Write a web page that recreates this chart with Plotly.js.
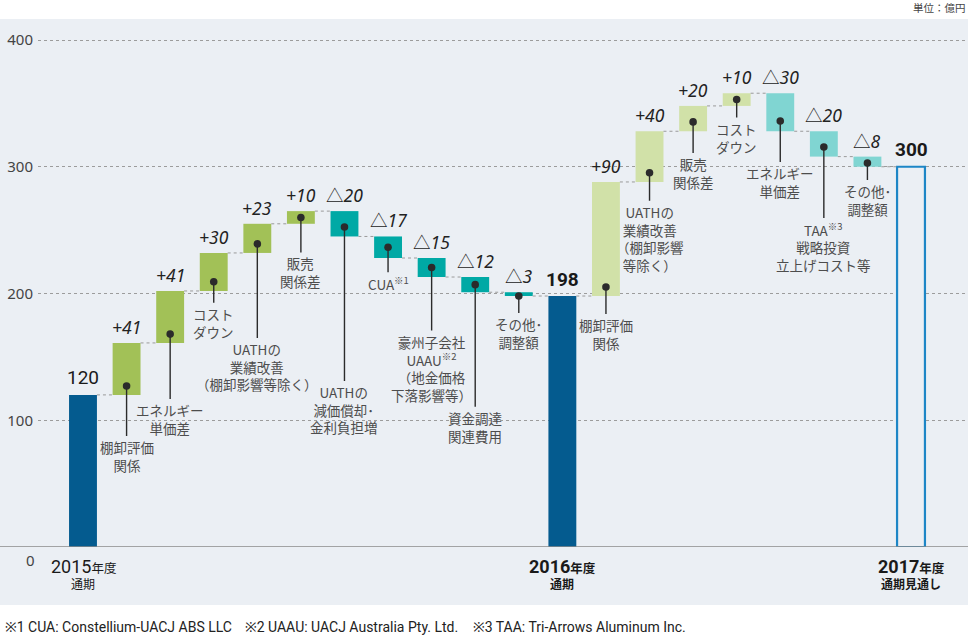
<!DOCTYPE html>
<html><head><meta charset="utf-8">
<script src="https://cdn.plot.ly/plotly-3.0.1.min.js"></script>
<style>html,body{margin:0;padding:0;background:#fff}</style>
</head><body><div id="chart" style="width:970px;height:635px"></div>
<script>
// ---------- data ----------
const categories = ['2015年度通期','棚卸評価関係','エネルギー単価差','コストダウン','UATHの業績改善','販売関係差','UATHの減価償却・金利負担増','CUA','豪州子会社UAAU','資金調達関連費用','その他・調整額','2016年度通期','棚卸評価関係','UATHの業績改善','販売関係差','コストダウン','エネルギー単価差','TAA戦略投資立上げコスト等','その他・調整額','2017年度通期見通し'];
const measures = ['total','delta','delta','delta','delta','delta','delta','delta','delta','delta','delta','total','delta','delta','delta','delta','delta','delta','delta','total'];
const values = [120, 41, 41, 30, 23, 10, -20, -17, -15, -12, -3, 198, 90, 40, 20, 10, -30, -20, -8, 300];
const calloutTexts = ['', '棚卸評価<br>関係', 'エネルギー<br>単価差', 'コスト<br>ダウン', 'UATHの<br>業績改善<br>（棚卸影響等除く）', '販売<br>関係差', 'UATHの<br>減価償却･<br>金利負担増', 'CUA<sup>※1</sup>', '豪州子会社<br>UAAU<sup>※2</sup><br>（地金価格<br>下落影響等）', '資金調達<br>関連費用', 'その他･<br>調整額', '', '棚卸評価<br>関係', 'UATHの<br>業績改善<br>（棚卸影響<br>等除く）', '販売<br>関係差', 'コスト<br>ダウン', 'エネルギー<br>単価差', 'TAA<sup>※3</sup><br>戦略投資<br>立上げコスト等', 'その他･<br>調整額', ''];
const yearTop = ['2015', '2016', '2017'];
const yearSub = ['通期', '通期', '通期見通し'];
const yearIdx = [0, 11, 19];
const yTicks = [100, 200, 300, 400];
const footnotes = ['※1 CUA: Constellium-UACJ ABS LLC', '※2 UAAU: UACJ Australia Pty. Ltd.', '※3 TAA: Tri-Arrows Aluminum Inc.'];

// ---------- style / positions ----------
const C = {
  total:'#045B8F', up1:'#A2C157', down1:'#00A9A5', up2:'#D1E1A8', down2:'#80D5D2',
  outline:'#1D86C6', panel:'#EBEFF4', grid:'#9c9c9c', txt:'#4d4d4d', val:'#222'
};
const calloutFrac = [0,0.17,0.17,0.24,0.31,0.5,0.375,0.5,0.5,0.5,0,0,0.08,0.18,0.37,0.5,0.27,0.38,0.375,0];
const calloutAy   = [0,50,65,21,94,35,154,25,63,122,17,0,27,28,31,18,41,71,17,0];
const footX = [3, 243, 471];
const W = 0.64;
const PL = 38, PR = 968, PT = 19, PB = 547;   // plot area px
const pxPerUnit = 1.2675;
const yMax = (PB - PT) / pxPerUnit;
const unitPx = 43.58;
const xr0 = -(83 - PL) / unitPx, xr1 = 19 + (PR - 911) / unitPx;
const py = p => (PB - p) / (PB - PT);       // px -> paper y
const pxX = p => (p - PL) / (PR - PL);      // px -> paper x
const NUMFONT = 'Roboto, Noto Sans, sans-serif';

// ---------- derived ----------
const xs = values.map((_, i) => i);
const bases = [], heights = [], colors = [], lineCols = [], lineW = [], ends = [], tops = [];
let run = 0, phase = 1;
values.forEach((v, i) => {
  if (measures[i] === 'total') {
    bases.push(0); heights.push(v); run = v;
    if (i === values.length - 1) { colors.push(C.panel); lineCols.push(C.outline); lineW.push(2.2); }
    else { colors.push(C.total); lineCols.push(C.total); lineW.push(0); }
    if (i > 0) phase = 2;
    tops.push(v);
  } else {
    const b = v >= 0 ? run : run + v;
    bases.push(b); heights.push(Math.abs(v));
    const col = v >= 0 ? (phase === 1 ? C.up1 : C.up2) : (phase === 1 ? C.down1 : C.down2);
    colors.push(col); lineCols.push(col); lineW.push(0);
    tops.push(b + Math.abs(v));
    run += v;
  }
  ends.push(run);
});

// connectors
const cx = [], cy = [];
for (let i = 0; i < values.length - 1; i++) {
  cx.push(i + W / 2, i + 1 - W / 2, null);
  cy.push(ends[i], ends[i], null);
}

const traces = [
  { type:'bar', x: xs, y: heights, base: bases, width: W,
    marker:{ color: colors, line:{ color: lineCols, width: lineW } },
    hoverinfo:'skip', showlegend:false },
  { type:'scatter', mode:'lines', x: cx, y: cy, connectgaps:false,
    line:{ color:'#9a9a9a', width:1, dash:'dot' }, hoverinfo:'skip', showlegend:false }
];

const annotations = [];
// value labels
values.forEach((v, i) => {
  let text, font;
  if (measures[i] === 'total') {
    text = (i === 0) ? String(v) : '<b>' + v + '</b>';
    font = { family:NUMFONT, size:19, color:'#1a1a1a' };
  } else {
    text = v >= 0 ? '<i>+' + v + '</i>' : '△<i>' + Math.abs(v) + '</i>';
    font = { family:'Noto Sans, Noto Sans CJK JP, sans-serif', size:17.5, color:C.val };
  }
  annotations.push({ x:i, y:tops[i], xref:'x', yref:'y', text, font, showarrow:false,
    xanchor:'center', yanchor:'middle', yshift: measures[i]==='total' ? 17 : 16 });
});
// callouts
values.forEach((v, i) => {
  if (measures[i] === 'total') return;
  const yDot = bases[i] + heights[i] * calloutFrac[i];
  annotations.push({ x:i, y:yDot, xref:'x', yref:'y', text: calloutTexts[i],
    showarrow:true, arrowhead:6, arrowsize:1.35, arrowwidth:1.4, arrowcolor:'#2b2b2b',
    ax:0, ay: calloutAy[i], standoff:0, xanchor:'center', yanchor:'top', borderpad:0,
    font:{ family:'Noto Sans CJK JP, sans-serif', size:13.5, color:C.txt } });
});
// year labels
yearIdx.forEach((ix, k) => {
  const bold = k > 0;
  const t = bold ? '<b>' + yearTop[k] + '</b><b><span style="font-family:Noto Sans CJK JP;font-size:12.5px">年度</span></b>'
                 : yearTop[k] + '<span style="font-family:Noto Sans CJK JP;font-size:12.5px">年度</span>';
  annotations.push({ x: ix, xref:'x', yref:'paper', y: py(566), text: t, showarrow:false,
    xanchor:'center', yanchor:'middle',
    font:{ family:NUMFONT, size:18, color:'#1a1a1a' } });
  annotations.push({ x: ix, xref:'x', yref:'paper', y: py(583), text: bold ? '<b>' + yearSub[k] + '</b>' : yearSub[k],
    showarrow:false, xanchor:'center', yanchor:'middle',
    font:{ family:'Noto Sans CJK JP, sans-serif', size:12, color:'#1a1a1a' } });
});
// zero label
annotations.push({ xref:'paper', yref:'paper', x: pxX(30), y: py(560), text:'0', showarrow:false,
  xanchor:'center', yanchor:'middle', font:{ family:'Noto Sans, sans-serif', size:15, color:'#444' } });
// unit
annotations.push({ xref:'paper', yref:'paper', x: pxX(968), y: py(7), text:'単位：億円', showarrow:false,
  xanchor:'right', yanchor:'middle', font:{ family:'Noto Sans CJK JP, sans-serif', size:10.5, color:'#444' } });
// footnotes
footnotes.forEach((f, k) => {
  annotations.push({ xref:'paper', yref:'paper', x: pxX(footX[k]), y: py(627), text: f, showarrow:false,
    xanchor:'left', yanchor:'middle', font:{ family:NUMFONT, size:14, color:'#222' } });
});

const layout = {
  width:970, height:635,
  margin:{ l:PL, r:970-PR, t:PT, b:635-PB, pad:0 },
  paper_bgcolor:'#ffffff', plot_bgcolor:'rgba(0,0,0,0)',
  showlegend:false,
  xaxis:{ range:[xr0, xr1], showgrid:false, zeroline:false, showticklabels:false, ticks:'', fixedrange:true },
  yaxis:{ range:[0, yMax], tickvals: yTicks, ticktext: yTicks.map(String), showgrid:true, gridcolor:C.grid,
    griddash:'dot', gridwidth:1, zeroline:false, showline:false, ticks:'', ticklabelstandoff:4,
    tickfont:{ family:'Noto Sans, sans-serif', size:15, color:'#444' } },
  shapes:[
    { type:'rect', xref:'paper', yref:'paper', x0: pxX(0), x1: pxX(968), y0: py(605), y1: 1,
      fillcolor:C.panel, line:{ width:0 }, layer:'below' },
    { type:'line', xref:'paper', yref:'y', x0: pxX(0), x1: pxX(968), y0:0, y1:0,
      line:{ color:'#8a8a8a', width:1.5 }, layer:'above' }
  ],
  annotations
};
Plotly.newPlot('chart', traces, layout, { displayModeBar:false, staticPlot:true });
</script></body></html>
